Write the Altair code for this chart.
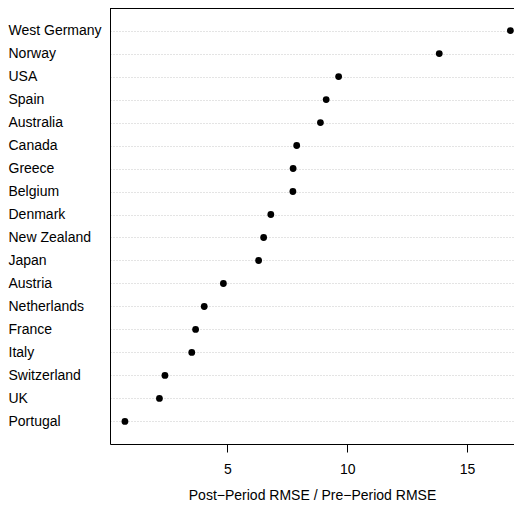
import altair as alt
import pandas as pd

countries = ["West Germany", "Norway", "USA", "Spain", "Australia", "Canada",
             "Greece", "Belgium", "Denmark", "New Zealand", "Japan", "Austria",
             "Netherlands", "France", "Italy", "Switzerland", "UK", "Portugal"]
ratios = [16.81, 13.84, 9.64, 9.12, 8.88, 7.89,
          7.74, 7.73, 6.81, 6.51, 6.30, 4.83,
          4.03, 3.67, 3.51, 2.39, 2.16, 0.72]
x_ticks = [5, 10, 15]
x_title = "Post\u2212Period RMSE / Pre\u2212Period RMSE"

df = pd.DataFrame({"country": countries, "ratio": ratios})

W, H = 404, 436

points = alt.Chart(df).mark_circle(size=46, color="black", opacity=1).encode(
    x=alt.X("ratio:Q",
            scale=alt.Scale(domain=[0.097, 16.96], nice=False, zero=False),
            axis=alt.Axis(values=x_ticks, title=x_title, grid=False,
                          domainColor="black", domainWidth=1,
                          tickColor="black", tickSize=8, tickWidth=1,
                          labelFontSize=14, labelColor="black", labelPadding=10,
                          labelFlush=False,
                          titleFontSize=14, titleFontWeight="normal",
                          titleColor="black", titlePadding=12)),
    y=alt.Y("country:N", sort=countries,
            scale=alt.Scale(type="point", padding=0.98),
            axis=alt.Axis(title=None, ticks=False, labelAlign="left",
                          labelBaseline="middle", labelPadding=102,
                          labelFontSize=14, labelColor="black",
                          domainColor="black", domainWidth=1,
                          grid=True, gridColor="#c8c8c8", gridDash=[1, 2],
                          gridWidth=1)),
)

top_line = alt.Chart(df).mark_rule(color="black", strokeWidth=1).encode(
    x=alt.value(0), x2=alt.value(W), y=alt.value(0)
)

chart = alt.layer(points, top_line).properties(
    width=W, height=H,
    autosize=alt.AutoSizeParams(type="none"),
    padding={"left": 102, "top": 0, "right": 0, "bottom": 59},
).configure(font="Liberation Sans").configure_view(stroke=None)

chart.save("out.html", embed_options={"renderer": "svg", "actions": False})
